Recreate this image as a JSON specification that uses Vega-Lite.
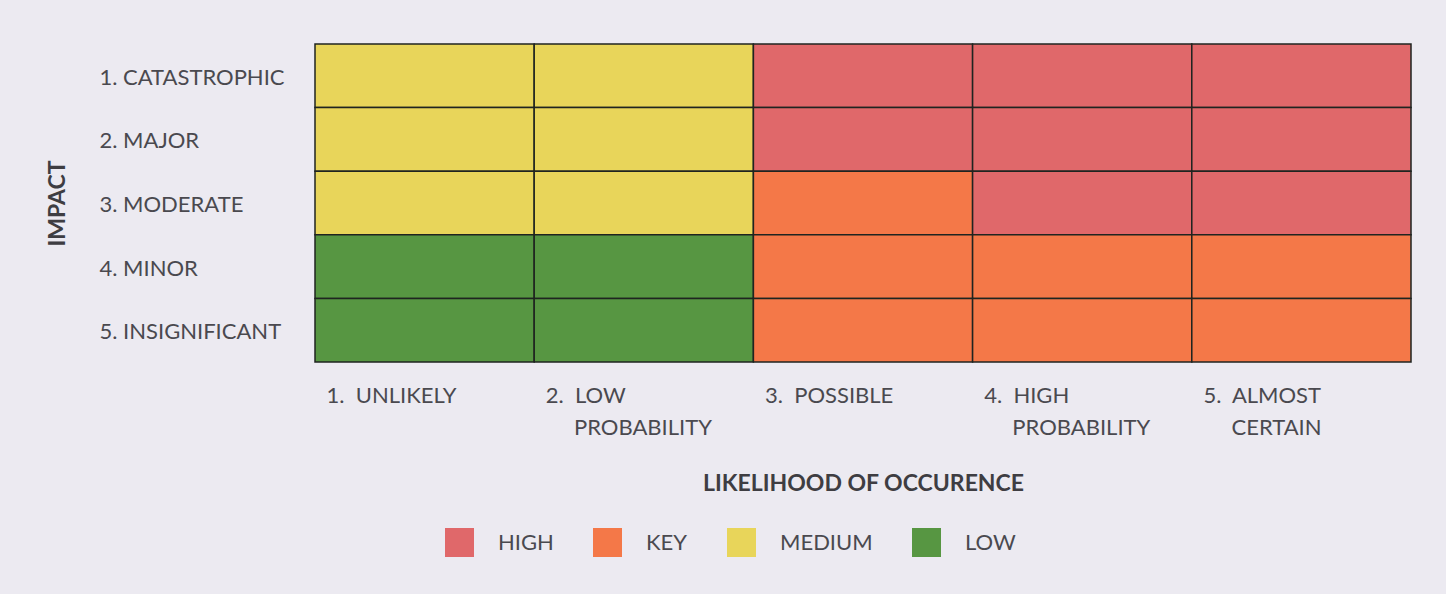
{
  "$schema": "https://vega.github.io/schema/vega-lite/v6.json",
  "width": 1096,
  "height": 318,
  "autosize": {"type": "none"},
  "padding": {"left": 315, "top": 44, "right": 35, "bottom": 232},
  "background": "#ECEAF1",
  "config": {
    "view": {"stroke": null},
    "font": "Lato",
    "axis": {"labelColor": "#4A494F", "titleColor": "#3E3D42"}
  },
  "data": {
    "values": [
      {"impact": "1. CATASTROPHIC", "likelihood": "1. UNLIKELY", "risk": "MEDIUM"},
      {"impact": "1. CATASTROPHIC", "likelihood": "2. LOW PROBABILITY", "risk": "MEDIUM"},
      {"impact": "1. CATASTROPHIC", "likelihood": "3. POSSIBLE", "risk": "HIGH"},
      {"impact": "1. CATASTROPHIC", "likelihood": "4. HIGH PROBABILITY", "risk": "HIGH"},
      {"impact": "1. CATASTROPHIC", "likelihood": "5. ALMOST CERTAIN", "risk": "HIGH"},
      {"impact": "2. MAJOR", "likelihood": "1. UNLIKELY", "risk": "MEDIUM"},
      {"impact": "2. MAJOR", "likelihood": "2. LOW PROBABILITY", "risk": "MEDIUM"},
      {"impact": "2. MAJOR", "likelihood": "3. POSSIBLE", "risk": "HIGH"},
      {"impact": "2. MAJOR", "likelihood": "4. HIGH PROBABILITY", "risk": "HIGH"},
      {"impact": "2. MAJOR", "likelihood": "5. ALMOST CERTAIN", "risk": "HIGH"},
      {"impact": "3. MODERATE", "likelihood": "1. UNLIKELY", "risk": "MEDIUM"},
      {"impact": "3. MODERATE", "likelihood": "2. LOW PROBABILITY", "risk": "MEDIUM"},
      {"impact": "3. MODERATE", "likelihood": "3. POSSIBLE", "risk": "KEY"},
      {"impact": "3. MODERATE", "likelihood": "4. HIGH PROBABILITY", "risk": "HIGH"},
      {"impact": "3. MODERATE", "likelihood": "5. ALMOST CERTAIN", "risk": "HIGH"},
      {"impact": "4. MINOR", "likelihood": "1. UNLIKELY", "risk": "LOW"},
      {"impact": "4. MINOR", "likelihood": "2. LOW PROBABILITY", "risk": "LOW"},
      {"impact": "4. MINOR", "likelihood": "3. POSSIBLE", "risk": "KEY"},
      {"impact": "4. MINOR", "likelihood": "4. HIGH PROBABILITY", "risk": "KEY"},
      {"impact": "4. MINOR", "likelihood": "5. ALMOST CERTAIN", "risk": "KEY"},
      {"impact": "5. INSIGNIFICANT", "likelihood": "1. UNLIKELY", "risk": "LOW"},
      {"impact": "5. INSIGNIFICANT", "likelihood": "2. LOW PROBABILITY", "risk": "LOW"},
      {"impact": "5. INSIGNIFICANT", "likelihood": "3. POSSIBLE", "risk": "KEY"},
      {"impact": "5. INSIGNIFICANT", "likelihood": "4. HIGH PROBABILITY", "risk": "KEY"},
      {"impact": "5. INSIGNIFICANT", "likelihood": "5. ALMOST CERTAIN", "risk": "KEY"}
    ]
  },
  "mark": {"type": "rect", "stroke": "#1F2420", "strokeWidth": 1.5},
  "encoding": {
    "x": {
      "field": "likelihood",
      "type": "ordinal",
      "scale": {"paddingInner": 0, "paddingOuter": 0},
      "axis": {
        "title": "LIKELIHOOD OF OCCURENCE",
        "titleFont": "Lato",
        "titleFontWeight": "bold",
        "titleFontSize": 23,
        "titlePadding": 34,
        "domain": false,
        "ticks": false,
        "tickSize": 0,
        "labelAngle": 0,
        "labelAlign": "left",
        "labelBaseline": "top",
        "labelOffset": -98,
        "labelPadding": 23,
        "labelFontSize": 22,
        "labelLineHeight": 32,
        "labelLimit": 300,
        "labelFont": "Lato",
        "labelExpr": "datum.value == '1. UNLIKELY' ? '1.\u00a0 UNLIKELY' : datum.value == '2. LOW PROBABILITY' ? ['2.\u00a0 LOW', '\u200b\u00a0\u00a0\u00a0\u00a0\u00a0PROBABILITY'] : datum.value == '3. POSSIBLE' ? '3.\u00a0 POSSIBLE' : datum.value == '4. HIGH PROBABILITY' ? ['4.\u00a0 HIGH', '\u200b\u00a0\u00a0\u00a0\u00a0\u00a0PROBABILITY'] : ['5.\u00a0 ALMOST', '\u200b\u00a0\u00a0\u00a0\u00a0\u00a0CERTAIN']"
      }
    },
    "y": {
      "field": "impact",
      "type": "ordinal",
      "scale": {"paddingInner": 0, "paddingOuter": 0},
      "axis": {
        "title": "IMPACT",
        "titleFont": "Lato",
        "titleFontWeight": "bold",
        "titleFontSize": 23,
        "titlePadding": 46,
        "domain": false,
        "ticks": false,
        "tickSize": 0,
        "labelAlign": "left",
        "labelPadding": 216,
        "labelOffset": 2,
        "labelLimit": 300,
        "labelFontSize": 22,
        "labelFont": "Lato"
      }
    },
    "color": {
      "field": "risk",
      "type": "nominal",
      "scale": {
        "domain": ["HIGH", "KEY", "MEDIUM", "LOW"],
        "range": ["#E0686A", "#F47848", "#E8D55A", "#579642"]
      },
      "legend": {
        "title": null,
        "orient": "none",
        "direction": "horizontal",
        "legendX": 130,
        "legendY": 484,
        "symbolType": "square",
        "symbolSize": 841,
        "symbolStrokeWidth": 0,
        "symbolOpacity": 1,
        "labelFontSize": 22,
        "labelFont": "Lato",
        "labelColor": "#4A494F",
        "labelOffset": 24,
        "columnPadding": 39
      }
    }
  }
}
